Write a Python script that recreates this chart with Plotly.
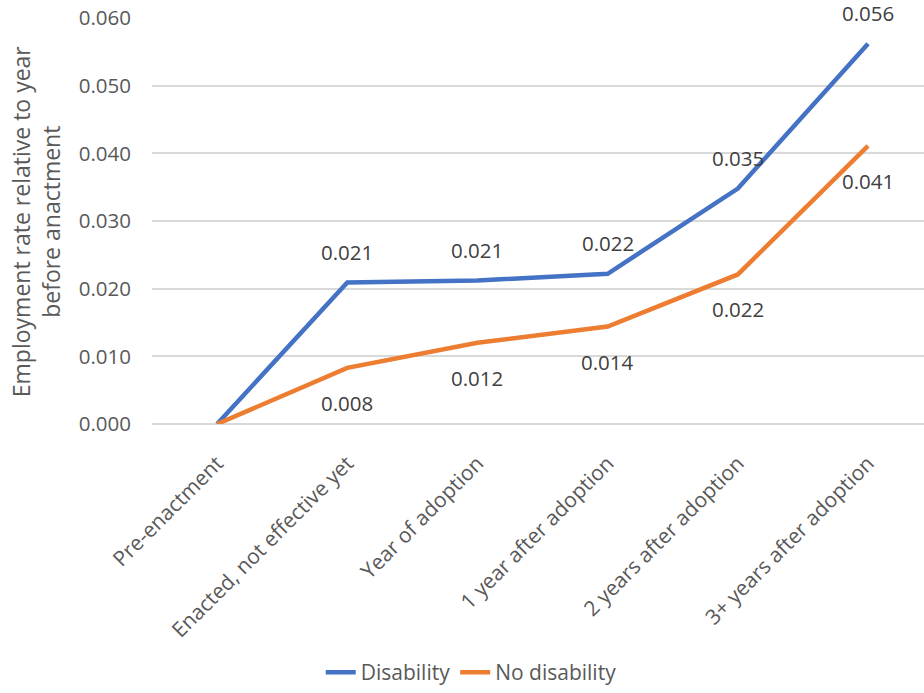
import plotly.graph_objects as go

categories = ["Pre-enactment", "Enacted, not effective yet", "Year of adoption",
              "1 year after adoption", "2 years after adoption", "3+ years after adoption"]
disability = [0.0, 0.0209, 0.0212, 0.0222, 0.0348, 0.0562]
no_disability = [0.0, 0.0083, 0.0120, 0.0144, 0.0221, 0.0411]
y_ticks = [0.0, 0.01, 0.02, 0.03, 0.04, 0.05, 0.06]

BLUE = "#4472C4"
ORANGE = "#ED7D31"
FONT = "Open Sans"
xs = list(range(len(categories)))

fig = go.Figure()
fig.add_trace(go.Scatter(x=xs, y=disability, mode="lines", name="Disability",
                         line=dict(color=BLUE, width=4.5)))
fig.add_trace(go.Scatter(x=xs, y=no_disability, mode="lines", name="No disability",
                         line=dict(color=ORANGE, width=4.5)))

for i, v in enumerate(disability):
    if i == 0:
        continue
    fig.add_annotation(x=i, y=v, text=f"{v:.3f}", showarrow=False, yshift=31,
                       font=dict(family=FONT, size=20.5, color="#404040"))
for i, v in enumerate(no_disability):
    if i == 0:
        continue
    fig.add_annotation(x=i, y=v, text=f"{v:.3f}", showarrow=False, yshift=-35,
                       font=dict(family=FONT, size=20.5, color="#404040"))

# y-axis title as rotated annotation
fig.add_annotation(xref="paper", yref="paper", x=-0.150, y=0.5, xanchor="center", yanchor="middle",
                   text="Employment rate relative to year<br>before anactment", textangle=-90,
                   showarrow=False, font=dict(family=FONT, size=23, color="#595959"))

fig.update_layout(
    width=924, height=693,
    margin=dict(l=152, r=0, t=18, b=269),
    plot_bgcolor="white", paper_bgcolor="white",
    font=dict(family=FONT, color="#595959", size=21),
    showlegend=True,
    legend=dict(orientation="h", xref="container", yref="container",
                x=0.51, xanchor="center", y=0.0, yanchor="bottom",
                font=dict(family=FONT, size=21, color="#595959")),
    xaxis=dict(range=[-0.5, 5.43], tickmode="array", tickvals=xs, ticktext=categories,
               tickangle=-45, showgrid=False, zeroline=False, showline=False,
               ticks="", ticklabelstandoff=22,
               tickfont=dict(family=FONT, size=21, color="#595959")),
    yaxis=dict(range=[0, 0.06], tickmode="array", tickvals=y_ticks,
               ticktext=[f"{t:.3f}" for t in y_ticks],
               showgrid=True, gridcolor="#D9D9D9", gridwidth=1.5,
               zeroline=True, zerolinecolor="#D9D9D9", zerolinewidth=1.5,
               ticks="", ticklabelstandoff=20,
               tickfont=dict(family=FONT, size=20.5, color="#595959")),
)

fig.write_html("out.html")
